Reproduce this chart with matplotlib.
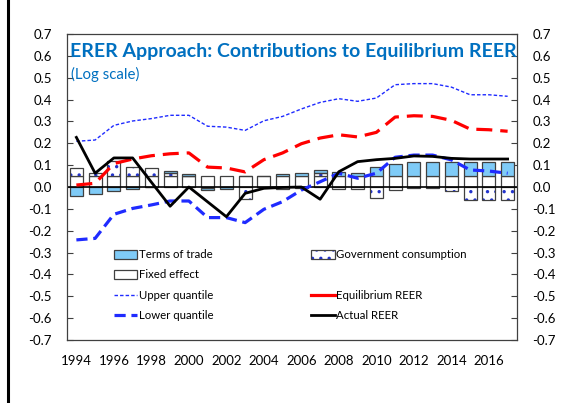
import numpy as np
import matplotlib
matplotlib.use('Agg')
import matplotlib.pyplot as plt
from matplotlib.patches import Patch
from matplotlib.lines import Line2D
from matplotlib.legend_handler import HandlerTuple

years = list(range(1994, 2018))

terms_of_trade = [-0.040, -0.032, -0.018, -0.009, -0.002, 0.008, 0.010, -0.009,
                  -0.005, 0.000, -0.002, 0.008, 0.012, 0.014, 0.018, 0.014,
                  0.041, 0.053, 0.064, 0.064, 0.064, 0.064, 0.064, 0.064]
gov_consumption = [0.038, 0.012, 0.069, 0.041, 0.038, 0.015, 0.000, -0.003,
                   -0.002, -0.055, 0.000, -0.009, -0.006, 0.012, -0.011, -0.011,
                   -0.052, -0.014, -0.005, -0.005, -0.018, -0.059, -0.059, -0.059]
fixed_effect = [0.05] * 24

upper_quantile = [0.209, 0.215, 0.282, 0.302, 0.313, 0.328, 0.328, 0.278,
                  0.274, 0.259, 0.303, 0.323, 0.357, 0.387, 0.404, 0.392,
                  0.407, 0.468, 0.473, 0.473, 0.457, 0.422, 0.422, 0.415]
equilibrium_reer = [0.009, 0.017, 0.107, 0.128, 0.143, 0.152, 0.156, 0.091,
                    0.087, 0.069, 0.125, 0.156, 0.198, 0.224, 0.239, 0.229,
                    0.250, 0.320, 0.326, 0.323, 0.305, 0.265, 0.262, 0.255]
lower_quantile = [-0.242, -0.235, -0.125, -0.098, -0.082, -0.064, -0.064, -0.140,
                  -0.140, -0.163, -0.102, -0.067, -0.014, 0.024, 0.063, 0.040,
                  0.063, 0.136, 0.146, 0.146, 0.124, 0.078, 0.073, 0.063]
actual_reer = [0.227, 0.063, 0.133, 0.133, 0.022, -0.088, 0.000, -0.068,
               -0.136, -0.029, -0.006, -0.002, 0.000, -0.056, 0.070, 0.116,
               0.125, 0.131, 0.142, 0.140, 0.131, 0.128, 0.128, 0.128]

y_ticks = [i / 10 for i in range(-7, 8)]

x = np.array(years)
tot = np.array(terms_of_trade)
gov = np.array(gov_consumption)
fix = np.array(fixed_effect)

# stack positives / negatives in series order: fixed, gov, terms of trade
pos = np.zeros(len(x))
neg = np.zeros(len(x))
def stack(vals):
    global pos, neg
    bottom = np.where(vals >= 0, pos, neg)
    pos = pos + np.clip(vals, 0, None)
    neg = neg + np.clip(vals, None, 0)
    return bottom

b_fix = stack(fix)
b_gov = stack(gov)
b_tot = stack(tot)

edge = '#404040'
light_blue = '#7FCBF7'
dot_blue = '#2233CC'
w = 0.7

plt.rcParams['font.family'] = ['Lato', 'DejaVu Sans']
plt.rcParams['hatch.linewidth'] = 1.2

fig = plt.figure(figsize=(5.61, 4.03), dpi=100)
ax = fig.add_axes([67/561, 1 - 340/403, 450/561, 306/403])

ax.bar(x, fix, w, bottom=b_fix, color='white', edgecolor=edge, linewidth=0.9, zorder=2)
ax.bar(x, gov, w, bottom=b_gov, color='white', edgecolor=dot_blue, hatch='..', linewidth=0, zorder=2)
ax.bar(x, gov, w, bottom=b_gov, fill=False, edgecolor=edge, linewidth=0.9, zorder=2.1)
ax.bar(x, tot, w, bottom=b_tot, color=light_blue, edgecolor=edge, linewidth=0.9, zorder=2)

ax.axhline(0, color='black', linewidth=1.2, zorder=2.5)

ax.plot(x, upper_quantile, color='#1F2BFF', linewidth=1.0, linestyle=(0, (2.5, 1.5)), zorder=3)
ax.plot(x, equilibrium_reer, color='#FF0000', linewidth=2.3, linestyle=(0, (5, 2.5)), zorder=3)
ax.plot(x, lower_quantile, color='#1F2BFF', linewidth=2.3, linestyle=(0, (3.5, 1.8)), zorder=3)
ax.plot(x, actual_reer, color='black', linewidth=2.0, zorder=3.1)

ax.set_xlim(1993.5, 2017.5)
ax.set_ylim(-0.7, 0.7)
ax.set_yticks(y_ticks)
ax.set_yticklabels(['%.1f' % v for v in y_ticks])
ax.set_xticks(years[::2])
ax.set_xticklabels([str(y) for y in years[::2]])
ax.tick_params(axis='y', direction='in', length=4, width=0.8, color=edge,
               right=True, labelright=True, pad=11, labelsize=9.5)
ax.tick_params(axis='x', length=0, pad=11, labelsize=9.5)
for s in ax.spines.values():
    s.set_color(edge)
    s.set_linewidth(0.9)

fig.text(70/561, 1 - 52/403, 'ERER Approach: Contributions to Equilibrium REER',
         color='#0070C0', fontsize=14, fontweight='bold', va='center')
fig.text(71/561, 1 - 74/403, '(Log scale)', color='#0070C0', fontsize=10.8, va='center')

h_tot = Patch(facecolor=light_blue, edgecolor=edge, linewidth=0.9)
h_gov = (Patch(facecolor='white', edgecolor=dot_blue, hatch='..', linewidth=0),
         Patch(fill=False, edgecolor=edge, linewidth=0.9))
h_fix = Patch(facecolor='white', edgecolor=edge, linewidth=0.9)
h_blank = Patch(facecolor='none', edgecolor='none')
h_up = Line2D([], [], color='#1F2BFF', linewidth=1.0, linestyle=(0, (2.5, 1.5)))
h_eq = Line2D([], [], color='#FF0000', linewidth=2.3)
h_lo = Line2D([], [], color='#1F2BFF', linewidth=2.3, linestyle=(0, (3.5, 1.8)))
h_act = Line2D([], [], color='black', linewidth=2.0)

handles = [h_tot, h_fix, h_up, h_lo, h_gov, h_blank, h_eq, h_act]
labels = ['Terms of trade', 'Fixed effect', 'Upper quantile', 'Lower quantile',
          'Government consumption', '', 'Equilibrium REER', 'Actual REER']
ax.legend(handles, labels, ncol=2, loc='upper left', bbox_to_anchor=(0.082, 0.33),
          frameon=False, fontsize=8.2, handlelength=2.05, handleheight=0.8,
          handletextpad=0.15, columnspacing=8.55, labelspacing=0.81,
          handler_map={tuple: HandlerTuple(ndivide=1, pad=0)})

fig.add_artist(Line2D([8/561, 8/561], [0, 1], color='black', linewidth=2.2,
                      transform=fig.transFigure))

fig.savefig('out.png', dpi=100)
